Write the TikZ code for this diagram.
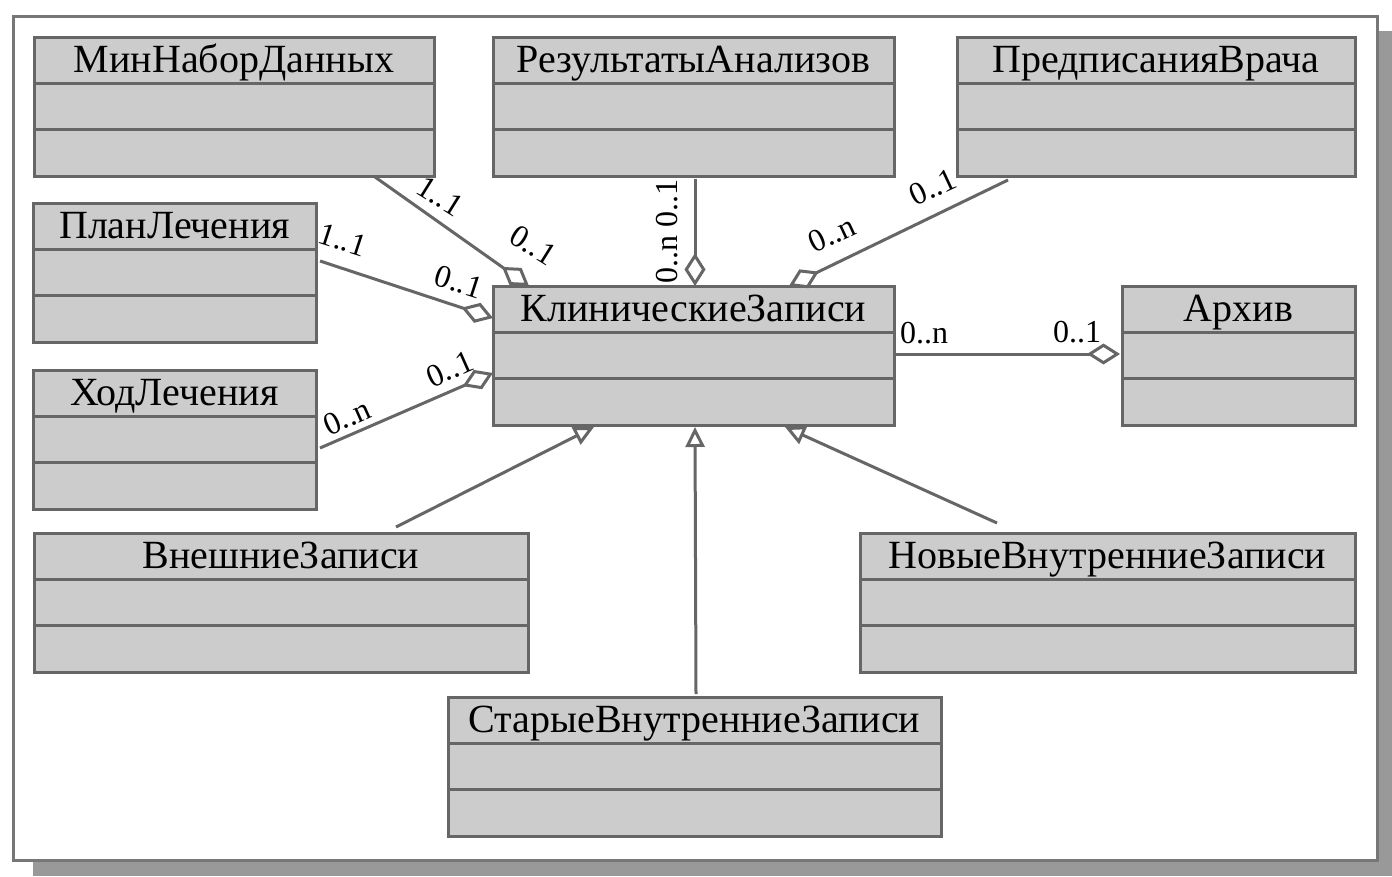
\documentclass[tikz,border=0pt]{standalone}
\usepackage{fontspec}
\setmainfont{Liberation Serif}
\usetikzlibrary{arrows.meta,calc}
\definecolor{boxfill}{HTML}{CCCCCC}
\definecolor{edgecol}{HTML}{666666}
\definecolor{shadecol}{HTML}{999999}
\definecolor{framecol}{HTML}{777777}
\tikzset{
  cls/.style={rectangle, anchor=north west, draw=edgecol, fill=boxfill,
    line width=3pt, minimum height=139pt, inner sep=0pt, outer sep=0pt},
  divider/.style={draw=edgecol, line width=3pt},
  ttl/.style={inner sep=0pt, anchor=base, font=\fontsize{40}{44}\selectfont, text=black},
  mult/.style={inner sep=0pt, font=\fontsize{32}{35}\selectfont, text=black},
  conn/.style={draw=edgecol, line width=3pt},
  agg/.style={conn, -{Diamond[length=33pt, width=21pt, fill=white, line width=3pt]}},
  gen/.style={conn, -{Triangle[length=20pt, width=19pt, fill=white, line width=3pt]}},
}
\newcommand\umlclass[5]{%
  \node[cls, minimum width=#4] (#1) at (#2,#3) {};
  \draw[divider] ($(#1.north west)+(0,46)$) -- ($(#1.north east)+(0,46)$);
  \draw[divider] ($(#1.north west)+(0,92)$) -- ($(#1.north east)+(0,92)$);
  \node[ttl] (#1-t) at ($(#1.north)+(0,35)$) {#5};
}
\begin{document}
\begin{tikzpicture}[x=1pt, y=-1pt]
\useasboundingbox (0,0) rectangle (1392,876);
% frame with shadow
\fill[shadecol] (33,31) rectangle (1392,876);
\draw[draw=framecol, fill=white, line width=3pt] (13.5,16.5) rectangle (1377.5,860);

\umlclass{min}{34}{37}{400}{МинНаборДанных}
\umlclass{res}{493}{37}{401}{РезультатыАнализов}
\umlclass{pred}{957}{37}{398}{ПредписанияВрача}
\umlclass{plan}{33}{203}{283}{ПланЛечения}
\umlclass{hod}{33}{370}{283}{ХодЛечения}
\umlclass{klin}{493}{286}{401}{КлиническиеЗаписи}
\umlclass{arch}{1122}{286}{233}{Архив}
\umlclass{vnesh}{34}{533}{494}{ВнешниеЗаписи}
\umlclass{novye}{860}{533}{495}{НовыеВнутренниеЗаписи}
\umlclass{stare}{448}{697}{493}{СтарыеВнутренниеЗаписи}

% aggregations
\draw[agg] ($(min.south west)+(341,1)$) -- ($(klin.north west)+(36,0)$);
\draw[agg] ($(plan.north east)+(4,58)$) -- ($(klin.north west)+(0,32)$);
\draw[agg] ($(hod.north east)+(4,78)$) -- ($(klin.north west)+(0,87)$);
\draw[agg] ($(res.south west)+(202,3)$) -- ($(klin.north west)+(202,0)$);
\draw[agg] ($(pred.south west)+(51,4)$) -- ($(klin.north west)+(296,0)$);
\draw[agg] ($(klin.north east)+(0,68)$) -- ($(arch.north west)+(-2,68)$);

% generalisations
\draw[gen] ($(vnesh.north west)+(362,-6)$) -- ($(klin.south west)+(101,2)$);
\draw[gen] ($(stare.north west)+(248,-3)$) -- ($(klin.south west)+(202,2)$);
\draw[gen] ($(novye.north west)+(137,-10)$) -- ($(klin.south west)+(292,2)$);

% multiplicities
\node[mult, rotate=-32] (m1) at (440,196) {1..1};
\node[mult, rotate=-32] (m2) at (533,245) {0..1};
\node[mult, rotate=-18] (m3) at (343,240) {1..1};
\node[mult, rotate=-18] (m4) at (459,282) {0..1};
\node[mult, rotate=24] (m5) at (347,417) {0..n};
\node[mult, rotate=24] (m6) at (450,369) {0..1};
\node[mult, rotate=90] (m7) at (667,203) {0..1};
\node[mult, rotate=90] (m8) at (667,259) {0..n};
\node[mult, rotate=25] (m9) at (933,187) {0..1};
\node[mult, rotate=25] (m10) at (832,234) {0..n};
\node[mult] (m11) at (924,333) {0..n};
\node[mult] (m12) at (1077,332) {0..1};
\end{tikzpicture}
\end{document}
